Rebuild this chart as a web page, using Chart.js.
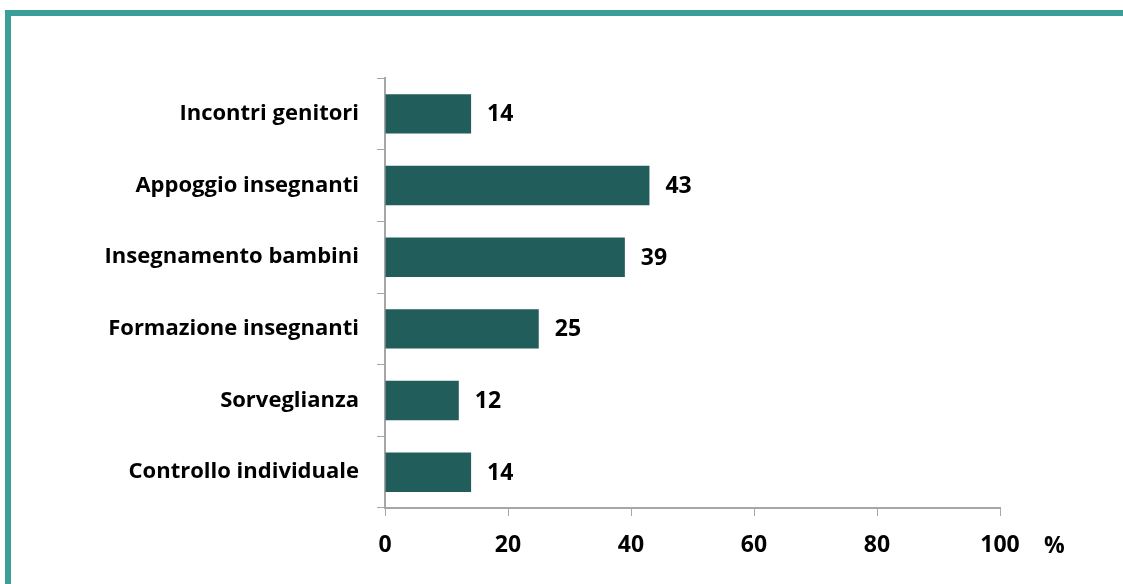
<!DOCTYPE html>
<html>
<head>
<meta charset="utf-8">
<script src="https://cdn.jsdelivr.net/npm/chart.js@4.4.1/dist/chart.umd.min.js"></script>
<style>
  html, body { margin: 0; padding: 0; background: #fff; }
  body { width: 1123px; height: 584px; position: relative; overflow: hidden; }
  .frame-top { position: absolute; left: 5px; top: 10px; width: 1118px; height: 6px; background: #3a9e99; }
  .frame-left { position: absolute; left: 5px; top: 10px; width: 6px; height: 574px; background: #3a9e99; }
  #wrap { position: absolute; left: 0; top: 0; width: 1123px; height: 584px; }
</style>
</head>
<body>
<div class="frame-top"></div>
<div class="frame-left"></div>
<div id="wrap"><canvas id="chart" width="1123" height="584"></canvas></div>
<script>
const categories = ['Incontri genitori', 'Appoggio insegnanti', 'Insegnamento bambini', 'Formazione insegnanti', 'Sorveglianza', 'Controllo individuale'];
const values = [14, 43, 39, 25, 12, 14];
const xTicks = [0, 20, 40, 60, 80, 100];
const unitLabel = '%';

const FONT = '"Open Sans", Lato, sans-serif';
const barColor = '#215e5b';
const axisColor = '#a6a6a6';

const valueLabels = {
  id: 'valueLabels',
  afterDatasetsDraw(chart) {
    const ctx = chart.ctx;
    const meta = chart.getDatasetMeta(0);
    ctx.save();
    ctx.font = 'bold 23px ' + FONT;
    ctx.fillStyle = '#000';
    ctx.textBaseline = 'middle';
    ctx.textAlign = 'left';
    meta.data.forEach((bar, i) => {
      ctx.fillText(String(values[i]), bar.x + 16, bar.y + 1);
    });
    // unit label at right of x axis ticks
    const xs = chart.scales.x;
    ctx.fillText(unitLabel, xs.right + 44, xs.top + 38);
    ctx.restore();
  }
};

new Chart(document.getElementById('chart'), {
  type: 'bar',
  data: {
    labels: categories,
    datasets: [{
      data: values,
      backgroundColor: barColor,
      borderWidth: 0,
      categoryPercentage: 1,
      barPercentage: 0.55,
    }],
  },
  options: {
    indexAxis: 'y',
    responsive: false,
    animation: false,
    layout: { padding: { top: 78, right: 123, left: 0, bottom: 0 } },
    plugins: { legend: { display: false }, tooltip: { enabled: false } },
    scales: {
      x: {
        min: 0, max: 100,
        afterBuildTicks: s => { s.ticks = xTicks.map(v => ({ value: v })); },
        afterFit: s => { s.height = 76; },
        grid: { drawOnChartArea: false, color: axisColor, tickLength: 8, tickColor: axisColor },
        border: { color: axisColor, width: 2 },
        ticks: { color: '#000', font: { family: FONT, size: 23, weight: 'bold' }, padding: 16 },
      },
      y: {
        afterFit: s => { s.width = 385; },
        grid: { drawOnChartArea: false, offset: true, color: axisColor, tickLength: 8, tickColor: axisColor },
        border: { color: axisColor, width: 2 },
        ticks: { color: '#000', font: { family: FONT, size: 22, weight: 'bold' }, padding: 18 },
      },
    },
  },
  plugins: [valueLabels],
});
</script>
</body>
</html>
